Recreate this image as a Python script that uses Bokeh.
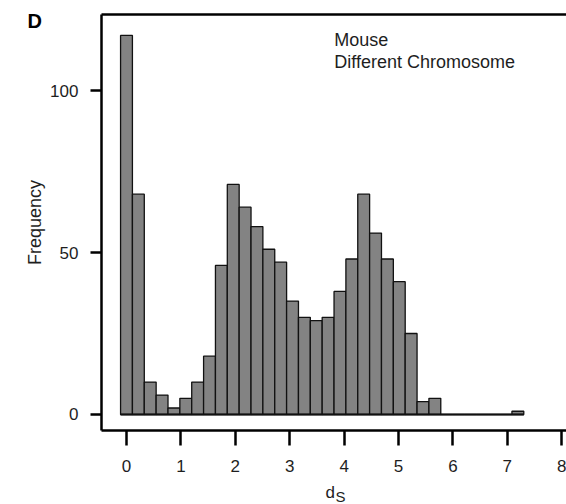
from bokeh.plotting import figure
from bokeh.models import Range1d, Label, FixedTicker, LinearAxis
from bokeh.embed import file_html
from bokeh.resources import INLINE

# Histogram of synonymous divergence (dS), mouse gene pairs on different chromosomes
BIN_WIDTH = 0.218
counts = [117, 68, 10, 6, 2, 5, 10, 18, 46, 71,
          64, 58, 51, 47, 35, 30, 29, 30, 38, 48,
          68, 56, 48, 41, 25, 4, 5, 0, 0, 0,
          0, 0, 0, 1]
x_ticks = [0, 1, 2, 3, 4, 5, 6, 7, 8]
y_ticks = [0, 50, 100]

centers = [i * BIN_WIDTH for i in range(len(counts))]
lefts = [c - BIN_WIDTH / 2 for c in centers]
rights = [c + BIN_WIDTH / 2 for c in centers]

FONT = "Liberation Sans"
INK = "#1e1e1e"

# the data frame fills the whole canvas; the boxed plotting area sits inside it
X_VIEW = (-2.316, 8.088)
Y_VIEW = (-27.78, 127.78)
BOX_LEFT, BOX_RIGHT = -0.46, 8.09
BOX_BOTTOM, BOX_TOP = -4.94, 123.46

p = figure(width=566, height=504, output_backend="svg", toolbar_location=None,
           x_range=Range1d(*X_VIEW), y_range=Range1d(*Y_VIEW),
           x_axis_location=None, y_axis_location=None,
           min_border=0)

p.background_fill_color = "white"
p.border_fill_color = "white"
p.outline_line_color = None
p.grid.visible = False


def style_axis(ax, tick_out, standoff):
    ax.axis_line_width = 2.5
    ax.axis_line_color = "black"
    ax.major_tick_line_width = 2.5
    ax.major_tick_line_color = "black"
    ax.major_tick_in = 0
    ax.major_tick_out = tick_out
    ax.minor_tick_line_color = None
    ax.major_label_text_font = FONT
    ax.major_label_text_font_size = "17px"
    ax.major_label_text_color = INK
    ax.major_label_standoff = standoff


xaxis = LinearAxis(fixed_location=BOX_BOTTOM, bounds=(BOX_LEFT, BOX_RIGHT),
                   ticker=FixedTicker(ticks=x_ticks))
style_axis(xaxis, 15, 14)
p.add_layout(xaxis, "below")

yaxis = LinearAxis(fixed_location=BOX_LEFT, bounds=(BOX_BOTTOM, BOX_TOP),
                   ticker=FixedTicker(ticks=y_ticks))
style_axis(yaxis, 11, 12)
yaxis.major_label_orientation = "horizontal"
yaxis.axis_label = "Frequency"
yaxis.axis_label_text_font = FONT
yaxis.axis_label_text_font_size = "18px"
yaxis.axis_label_text_font_style = "normal"
yaxis.axis_label_text_color = INK
yaxis.axis_label_standoff = 2
p.add_layout(yaxis, "left")

# top edge of the box: a bare axis line
top_edge = LinearAxis(fixed_location=BOX_TOP, bounds=(BOX_LEFT, BOX_RIGHT),
                      ticker=FixedTicker(ticks=[]))
top_edge.axis_line_width = 2.5
top_edge.axis_line_color = "black"
top_edge.major_tick_line_color = None
top_edge.minor_tick_line_color = None
top_edge.major_label_text_font_size = "0px"
p.add_layout(top_edge, "above")

# bars, including empty bins which collapse onto the baseline
p.quad(left=lefts, right=rights, bottom=0, top=counts,
       fill_color="#838383", line_color="#111111", line_width=1.3)
p.segment(x0=[lefts[0]], x1=[rights[-1]], y0=[0], y1=[0],
          line_color="#111111", line_width=2)

# x axis title: d with subscript S
p.add_layout(Label(x=3.66, y=-24.1, text="d", text_font=FONT,
                   text_font_size="17px", text_color=INK,
                   text_baseline="alphabetic"))
p.add_layout(Label(x=3.84, y=-25.2, text="S", text_font=FONT,
                   text_font_size="15px", text_color=INK,
                   text_baseline="alphabetic"))

# panel letter
p.add_layout(Label(x=-1.82, y=121.5, text="D", text_font=FONT,
                   text_font_size="20px", text_font_style="bold",
                   text_color="black", text_baseline="alphabetic"))

# legend text
p.add_layout(Label(x=3.82, y=115.6, text="Mouse", text_font=FONT,
                   text_font_size="18px", text_color=INK,
                   text_baseline="alphabetic"))
p.add_layout(Label(x=3.82, y=108.9, text="Different Chromosome", text_font=FONT,
                   text_font_size="18px", text_color=INK,
                   text_baseline="alphabetic"))

open("out.html", "w").write(file_html(p, INLINE))
